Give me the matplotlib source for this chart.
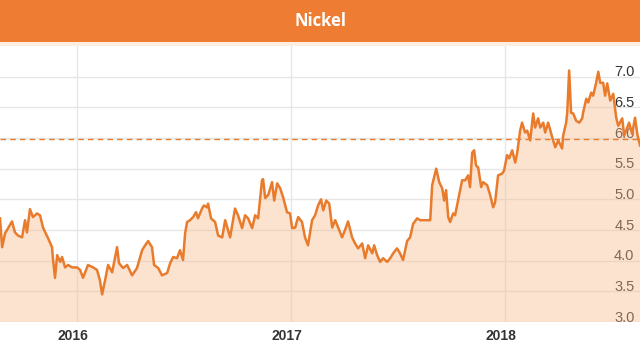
import matplotlib
matplotlib.use("Agg")
import matplotlib.pyplot as plt
import matplotlib.transforms as mtransforms
from matplotlib.patches import Rectangle

#-------------------------------------------------------------------------------

#data (decimal years, price)
years = [
    2015.640, 2015.650, 2015.664, 2015.673, 2015.696, 2015.710, 2015.724, 2015.743,
    2015.757, 2015.766, 2015.780, 2015.794, 2015.813, 2015.827, 2015.841, 2015.864,
    2015.883, 2015.888, 2015.897, 2015.907, 2015.921, 2015.930, 2015.944, 2015.958,
    2015.977, 2016.000, 2016.014, 2016.028, 2016.051, 2016.075, 2016.093, 2016.107,
    2016.117, 2016.131, 2016.145, 2016.164, 2016.178, 2016.187, 2016.196,
    2016.215, 2016.234, 2016.257, 2016.280, 2016.304, 2016.318, 2016.332, 2016.350,
    2016.360, 2016.379, 2016.397, 2016.421, 2016.435, 2016.449, 2016.467, 2016.481,
    2016.495, 2016.505, 2016.514, 2016.528, 2016.542, 2016.556, 2016.565, 2016.584,
    2016.593, 2016.607, 2016.612, 2016.626, 2016.645, 2016.659,
    2016.678, 2016.692, 2016.715, 2016.738, 2016.752, 2016.771, 2016.785, 2016.799,
    2016.818, 2016.832, 2016.846, 2016.864, 2016.869, 2016.879, 2016.893, 2016.911,
    2016.921, 2016.935, 2016.949, 2016.963, 2016.981, 2016.995, 2017.005, 2017.019,
    2017.033, 2017.051, 2017.065, 2017.079, 2017.098, 2017.112, 2017.126, 2017.140,
    2017.150, 2017.164, 2017.178, 2017.192, 2017.206, 2017.220, 2017.238, 2017.252,
    2017.266, 2017.285, 2017.299, 2017.313, 2017.332, 2017.346, 2017.360, 2017.379,
    2017.388, 2017.402, 2017.416, 2017.430, 2017.449, 2017.463, 2017.477, 2017.495,
    2017.509, 2017.523, 2017.542, 2017.556, 2017.570, 2017.589, 2017.603, 2017.650,
    2017.659, 2017.678, 2017.692, 2017.706, 2017.715, 2017.724, 2017.734, 2017.743,
    2017.757, 2017.766, 2017.780, 2017.799, 2017.813, 2017.827, 2017.836, 2017.846,
    2017.855, 2017.864, 2017.874, 2017.888, 2017.897, 2017.916, 2017.930, 2017.944,
    2017.953, 2017.967, 2017.986, 2017.995, 2018.009, 2018.019, 2018.033, 2018.047,
    2018.056, 2018.070, 2018.079, 2018.093, 2018.103, 2018.117, 2018.131, 2018.140,
    2018.154, 2018.164, 2018.178, 2018.187, 2018.201, 2018.220, 2018.234, 2018.248,
    2018.266, 2018.271, 2018.285, 2018.290, 2018.299, 2018.308, 2018.318, 2018.332,
    2018.346, 2018.360, 2018.364, 2018.379, 2018.388, 2018.402, 2018.411, 2018.425,
    2018.435, 2018.444, 2018.458, 2018.467, 2018.477, 2018.491, 2018.505, 2018.519,
    2018.528, 2018.547, 2018.556, 2018.570, 2018.579, 2018.593, 2018.607, 2018.617,
    2018.630,
]
prices = [
    4.69, 4.22, 4.45, 4.50, 4.64, 4.46, 4.41, 4.38,
    4.66, 4.46, 4.84, 4.71, 4.77, 4.74, 4.54, 4.37,
    4.22, 4.01, 3.72, 4.09, 3.98, 4.06, 3.89, 3.93,
    3.89, 3.89, 3.85, 3.72, 3.93, 3.89, 3.85, 3.68,
    3.45, 3.68, 3.93, 3.81, 4.06, 4.22, 3.96,
    3.88, 3.93, 3.76, 3.88, 4.17, 4.25, 4.32, 4.22,
    3.93, 3.88, 3.76, 3.80, 3.96, 4.06, 4.04, 4.17,
    4.01, 4.45, 4.63, 4.66, 4.71, 4.79, 4.69, 4.85,
    4.90, 4.87, 4.93, 4.69, 4.63, 4.41,
    4.38, 4.66, 4.38, 4.85, 4.74, 4.53, 4.74, 4.69,
    4.53, 4.74, 4.69, 5.31, 5.33, 5.02, 5.07, 5.28,
    4.98, 5.26, 5.18, 5.03, 4.79, 4.77, 4.53, 4.54,
    4.71, 4.63, 4.38, 4.25, 4.66, 4.74, 4.90, 5.00,
    4.82, 4.98, 4.93, 4.54, 4.66, 4.54, 4.38, 4.50,
    4.64, 4.38, 4.28, 4.20, 4.28, 4.04, 4.25, 4.12,
    4.25, 4.09, 3.98, 4.04, 3.98, 4.04, 4.12, 4.20,
    4.12, 4.01, 4.32, 4.38, 4.60, 4.69, 4.66, 4.66,
    5.23, 5.50, 5.28, 5.18, 4.98, 5.15, 4.71, 4.63,
    4.77, 4.74, 4.98, 5.31, 5.31, 5.39, 5.20, 5.76,
    5.80, 5.55, 5.52, 5.20, 5.28, 5.23, 5.07, 4.87,
    4.95, 5.39, 5.42, 5.47, 5.72, 5.67, 5.80, 5.60,
    5.75, 6.12, 6.25, 6.09, 6.12, 5.96, 6.40, 6.17,
    6.32, 6.17, 6.25, 6.09, 6.25, 6.01, 5.85, 5.96,
    5.83, 6.04, 6.25, 6.41, 7.10, 6.41, 6.40, 6.28,
    6.25, 6.32, 6.41, 6.64, 6.58, 6.74, 6.69, 6.90,
    7.08, 6.90, 6.90, 6.69, 6.89, 6.61, 6.72, 6.33,
    6.20, 6.32, 6.04, 6.17, 6.25, 6.07, 6.33, 6.07,
    5.88,
]
reference_level = 5.98
year_ticks = [2016, 2017, 2018]
year_labels = ["2016", "2017", "2018"]
price_ticks = [3.0, 3.5, 4.0, 4.5, 5.0, 5.5, 6.0, 6.5, 7.0]
price_labels = ["3.0", "3.5", "4.0", "4.5", "5.0", "5.5", "6.0", "6.5", "7.0"]
title = "Nickel"

#-------------------------------------------------------------------------------

#colors
orange = "#EE7D33"
line_color = "#E87B2C"
fill_color = "#F7B98A"
grid_color = "#E6E6E6"
text_color = "#333333"

#-------------------------------------------------------------------------------

#figure
fig = plt.figure(figsize=(6.4, 3.44), dpi=100)
fig.patches.append(Rectangle((0, 302 / 344), 1, 42 / 344, transform=fig.transFigure,
                             facecolor=orange, edgecolor="none", zorder=0))
fig.patches.append(Rectangle((0, 298 / 344), 1, 4 / 344, transform=fig.transFigure,
                             facecolor="#FDEEE2", edgecolor="none", zorder=0))
fig.text(0.5, 323 / 344, title, ha="center", va="center", color="white",
         fontsize=12, fontweight="bold", family=["Open Sans", "DejaVu Sans"])

ax = fig.add_axes([0, 22 / 344, 1, 276 / 344])
ax.set_xlim(years[0], years[-1])
ax.set_ylim(3.0, 7.5)

for s in ax.spines.values():
    s.set_visible(False)

ax.set_yticks(price_ticks)
ax.set_yticklabels(price_labels)
ax.set_xticks(year_ticks)
ax.set_xticklabels(year_labels)
ax.grid(True, color=grid_color, linewidth=1, zorder=0)
ax.set_axisbelow(True)

ax.tick_params(axis="y", length=0, labelleft=False, labelright=True, pad=-4,
               labelsize=10.5, labelcolor=text_color)
ax.tick_params(axis="x", length=0, pad=5, labelsize=10, labelcolor=text_color)

up = mtransforms.ScaledTranslation(0, 6 / 100, fig.dpi_scale_trans)
for lab in ax.get_yticklabels():
    lab.set_horizontalalignment("right")
    lab.set_family(["Liberation Sans", "DejaVu Sans"])
    lab.set_transform(lab.get_transform() + up)
    lab.set_zorder(5)

left = mtransforms.ScaledTranslation(-4 / 100, 0, fig.dpi_scale_trans)
for lab in ax.get_xticklabels():
    lab.set_fontweight("bold")
    lab.set_family(["Liberation Sans", "DejaVu Sans"])
    lab.set_transform(lab.get_transform() + left)

#-------------------------------------------------------------------------------

#series
ax.fill_between(years, prices, 3.0, color=fill_color, alpha=0.4, linewidth=0, zorder=2)
ax.plot(years, prices, color=line_color, linewidth=1.8, zorder=3)
ax.axhline(reference_level, color=line_color, linewidth=1, linestyle=(0, (4, 3)), zorder=4)

fig.savefig("out.png", dpi=100)
